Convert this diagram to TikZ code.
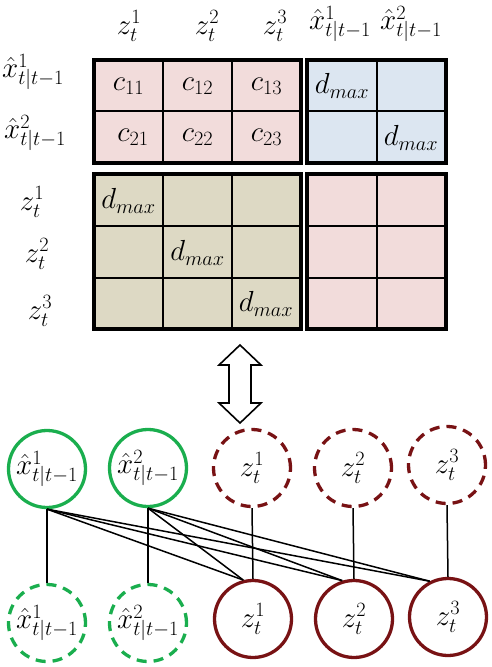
\documentclass[tikz,border=0pt]{standalone}
\usepackage{fix-cm}
\definecolor{pinkc}{HTML}{F2DCDB}
\definecolor{bluec}{HTML}{DCE6F1}
\definecolor{tanc}{HTML}{DDD9C4}
\definecolor{greenc}{HTML}{1AAE4E}
\definecolor{redc}{HTML}{781214}
\begin{document}
\begin{tikzpicture}[x=1pt,y=-1pt,
  txt/.style={font=\fontsize{29}{34}\selectfont, inner sep=0pt},
  cellline/.style={draw=black, line width=2pt},
  rowline/.style={draw=black, line width=2.8pt},
  blockline/.style={draw=black, line width=3.2pt},
  circ/.style={circle, minimum size=77pt, inner sep=0pt, line width=3.3pt, font=\fontsize{29}{34}\selectfont},
  gsolid/.style={circ, draw=greenc},
  gdash/.style={circ, draw=greenc, dash pattern=on 10pt off 7pt},
  rsolid/.style={circ, draw=redc},
  rdash/.style={circ, draw=redc, dash pattern=on 10pt off 7pt},
  conn/.style={draw=black, line width=1.5pt},
  bigarrow/.style={draw=black, line width=1.6pt, fill=white, line join=miter}]
\useasboundingbox (0,0) rectangle (492,667);

% top-left block (pink)
\foreach \xa/\xb in {94/163,163/232,232/301}
  \foreach \ya/\yb in {60/111,111/163}
    \draw[cellline, fill=pinkc] (\xa,\ya) rectangle (\xb,\yb);
% top-right block (blue)
\foreach \xa/\xb in {307/377,377/446}
  \foreach \ya/\yb in {60/111,111/163}
    \draw[cellline, fill=bluec] (\xa,\ya) rectangle (\xb,\yb);
% bottom-left block (tan)
\foreach \xa/\xb in {94/163,163/232,232/301}
  \foreach \ya/\yb in {174/226,226/278,278/329}
    \draw[cellline, fill=tanc] (\xa,\ya) rectangle (\xb,\yb);
% bottom-right block (pink)
\foreach \xa/\xb in {307/377,377/446}
  \foreach \ya/\yb in {174/226,226/278,278/329}
    \draw[cellline, fill=pinkc] (\xa,\ya) rectangle (\xb,\yb);
% row borders
\foreach \ya/\yb in {60/111,111/163,174/226,226/278,278/329} {
  \draw[rowline] (94,\ya) rectangle (301,\yb);
  \draw[rowline] (307,\ya) rectangle (446,\yb);
}
% block borders
\draw[blockline] (94,60) rectangle (301,163);
\draw[blockline] (307,60) rectangle (446,163);
\draw[blockline] (94,174) rectangle (301,329);
\draw[blockline] (307,174) rectangle (446,329);

% column headers
\node[txt] (h1) at (129,26) {$z^1_t$};
\node[txt] (h2) at (207,26) {$z^2_t$};
\node[txt] (h3) at (275,26) {$z^3_t$};
\node[txt] (h4) at (340,24) {$\hat{x}^1_{t|t-1}$};
\node[txt] (h5) at (411,24) {$\hat{x}^2_{t|t-1}$};
% row headers
\node[txt] (r1) at (33,72) {$\hat{x}^1_{t|t-1}$};
\node[txt] (r2) at (35,133) {$\hat{x}^2_{t|t-1}$};
\node[txt] (r3) at (32,202) {$z^1_t$};
\node[txt] (r4) at (37,254) {$z^2_t$};
\node[txt] (r5) at (40,311) {$z^3_t$};

% cell contents
\node[txt] (c11) at (128.5,86) {$c_{11}$};
\node[txt] (c12) at (197.5,86) {$c_{12}$};
\node[txt] (c13) at (266.5,86) {$c_{13}$};
\node[txt] (c21) at (133,137) {$c_{21}$};
\node[txt] (c22) at (197.5,137) {$c_{22}$};
\node[txt] (c23) at (266.5,137) {$c_{23}$};
\node[txt] (d1) at (342,86) {$d_{max}$};
\node[txt] (d2) at (411,138) {$d_{max}$};
\node[txt] (d3) at (128.5,201) {$d_{max}$};
\node[txt] (d4) at (197.5,253) {$d_{max}$};
\node[txt] (d5) at (266,304) {$d_{max}$};

% double arrow
\draw[bigarrow] (240,345) -- (261,365) -- (251,365) -- (251,403) -- (261,403)
  -- (240,423) -- (219,403) -- (229,403) -- (229,365) -- (219,365) -- cycle;

% top circles
\node[gsolid] (xt1) at (47,469) {$\hat{x}^1_{t|t-1}$};
\node[gsolid] (xt2) at (148,468) {$\hat{x}^2_{t|t-1}$};
\node[rdash] (zt1) at (252,468) {$z^1_t$};
\node[rdash] (zt2) at (353,468) {$z^2_t$};
\node[rdash] (zt3) at (447,465) {$z^3_t$};
% bottom circles
\node[gdash] (xb1) at (47,623) {$\hat{x}^1_{t|t-1}$};
\node[gdash] (xb2) at (148,623) {$\hat{x}^2_{t|t-1}$};
\node[rsolid] (zb1) at (253,619) {$z^1_t$};
\node[rsolid] (zb2) at (354,619) {$z^2_t$};
\node[rsolid] (zb3) at (448,617) {$z^3_t$};

% connectors
\draw[conn] (xt1.south) -- (xb1.north);
\draw[conn] (xt2.south) -- (xb2.north);
\draw[conn] (zt1.south) -- (zb1.north);
\draw[conn] (zt2.south) -- (zb2.north);
\draw[conn] (zt3.south) -- (zb3.north);
\foreach \s in {xt1,xt2} {
  \draw[conn] (\s.south) -- (zb1.104);
  \draw[conn] (\s.south) -- (zb2.107);
  \draw[conn] (\s.south) -- (zb3.117);
}
\end{tikzpicture}
\end{document}
